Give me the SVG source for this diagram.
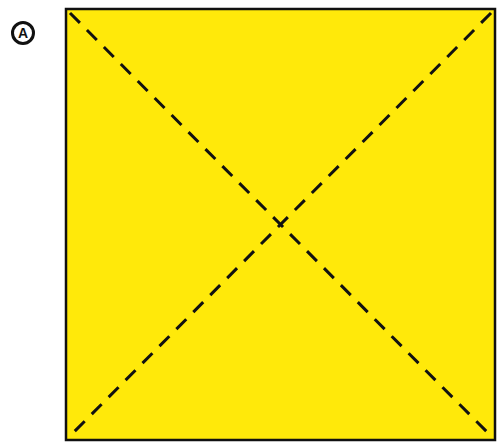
<svg xmlns="http://www.w3.org/2000/svg" width="498" height="446" viewBox="0 0 498 446">
<style>
.sq{fill:#FFE90A;stroke:#111;stroke-width:2.5}
.diag{stroke:#111;stroke-width:3;stroke-dasharray:14 10;fill:none}
.lbl{font-family:"Liberation Sans",Arial,sans-serif;font-size:14px;font-weight:bold;fill:#111}
</style>
<g id="label">
<circle cx="23" cy="33" r="10.5" fill="none" stroke="#111" stroke-width="3"/>
<text class="lbl" x="23" y="38" text-anchor="middle">A</text>
</g>
<g id="square">
<rect class="sq" x="66" y="9" width="429" height="431"/>
</g>
<g id="connectors">
<line class="diag" x1="70" y1="13" x2="491" y2="436"/>
<line class="diag" x1="491" y1="13" x2="70" y2="436"/>
</g>
</svg>
